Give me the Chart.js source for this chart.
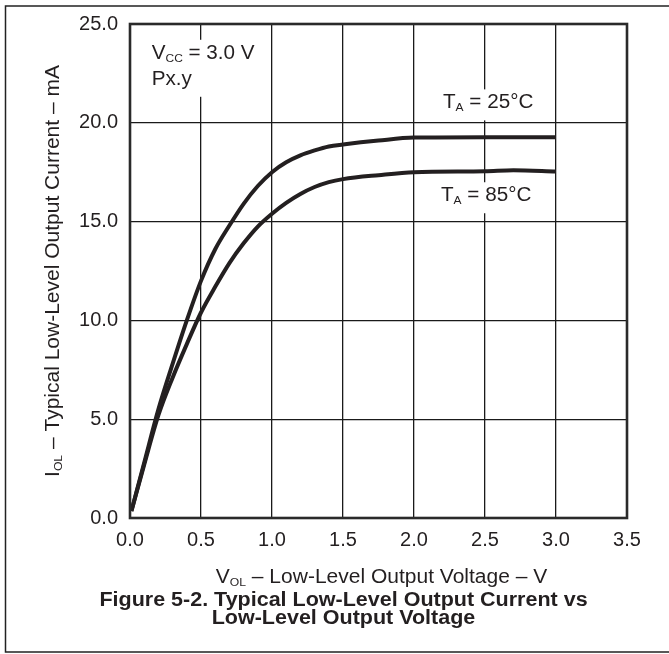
<!DOCTYPE html>
<html>
<head>
<meta charset="utf-8">
<script src="https://cdn.jsdelivr.net/npm/chart.js@4.4.0/dist/chart.umd.min.js"></script>
<style>html,body{margin:0;padding:0;background:#fff;overflow:hidden}</style>
</head>
<body>
<canvas id="myCanvas" width="669" height="654"></canvas>
<script>
var voltage   = [0.01, 0.1, 0.2, 0.3, 0.4, 0.5, 0.6, 0.7, 0.8, 0.9, 1.0, 1.1, 1.2, 1.3, 1.4, 1.5, 1.75, 2.0, 2.5, 2.7, 3.0]
var current25 = [0.35, 2.8, 5.5, 7.8, 10.0, 12.0, 13.6, 14.8, 15.9, 16.8, 17.5, 18.0, 18.35, 18.6, 18.8, 18.9, 19.1, 19.25, 19.27, 19.27, 19.27]
var current85 = [0.35, 2.7, 5.2, 7.1, 8.8, 10.4, 11.7, 12.9, 13.9, 14.75, 15.4, 15.95, 16.4, 16.75, 17.0, 17.15, 17.35, 17.5, 17.55, 17.6, 17.53]
var xTicks = [0, 0.5, 1.0, 1.5, 2.0, 2.5, 3.0, 3.5]
var yTicks = [0, 5, 10, 15, 20, 25]

var ink = '#231f20'
var family = '"Liberation Sans", Arial, Helvetica, sans-serif'

function toPoints(xs, ys) {
    return xs.map(function (x, i) { return { x: x, y: ys[i] } })
}

// a line of text is a list of [text, subscript?] pieces
function richWidth(ctx, parts, size, bold, sx) {
    var w = 0
    parts.forEach(function (p) {
        ctx.font = (bold ? 'bold ' : '') + (p[1] ? size * 0.58 : size) + 'px ' + family
        w += ctx.measureText(p[0]).width * sx
    })
    return w
}

function drawRich(ctx, parts, x, y, size, bold, sx, align) {
    var w = richWidth(ctx, parts, size, bold, sx)
    var cx = align === 'center' ? x - w / 2 : x
    ctx.fillStyle = ink
    ctx.textBaseline = 'alphabetic'
    ctx.textAlign = 'left'
    parts.forEach(function (p) {
        var fs = p[1] ? size * 0.58 : size
        ctx.font = (bold ? 'bold ' : '') + fs + 'px ' + family
        ctx.save()
        ctx.translate(cx, y + (p[1] ? 3 : 0))
        ctx.scale(sx, 1)
        ctx.fillText(p[0], 0, 0)
        ctx.restore()
        cx += ctx.measureText(p[0]).width * sx
    })
}

var notes = [
    { x: 0.153, y: 23.24, lines: [[['V'], ['CC', 1], [' = 3.0 V']], [['Px.y']]] },
    { x: 2.204, y: 20.73, lines: [[['T'], ['A', 1], [' = 25°C']]] },
    { x: 2.19, y: 16.03, lines: [[['T'], ['A', 1], [' = 85°C']]] }
]

var decor = {
    id: 'decor',
    afterDatasetsDraw: function (chart) {
        var ctx = chart.ctx, ca = chart.chartArea
        var sx = chart.scales.x, sy = chart.scales.y
        ctx.save()
        // labels inside the plot, on white boxes over the grid
        notes.forEach(function (n) {
            var left = sx.getPixelForValue(n.x), base = sy.getPixelForValue(n.y)
            var w = 0
            n.lines.forEach(function (l) { w = Math.max(w, richWidth(ctx, l, 19.5, false, 1.06)) })
            ctx.fillStyle = '#fff'
            ctx.fillRect(left - 4, base - 19, w + 10, 26 * (n.lines.length - 1) + 31)
            n.lines.forEach(function (l, i) { drawRich(ctx, l, left, base + 26 * i, 19.5, false, 1.06, 'left') })
        })
        // plot frame
        ctx.strokeStyle = '#2a2a2a'
        ctx.lineWidth = 2.6
        ctx.strokeRect(ca.left, ca.top, ca.right - ca.left, ca.bottom - ca.top)
        ctx.restore()
    },
    afterDraw: function (chart) {
        var ctx = chart.ctx, ca = chart.chartArea
        ctx.save()
        // axis titles
        drawRich(ctx, [['V'], ['OL', 1], [' – Low-Level Output Voltage – V']],
            (ca.left + ca.right) / 2 + 3, ca.bottom + 65, 20, false, 1.05, 'center')
        ctx.save()
        ctx.translate(59, (ca.top + ca.bottom) / 2)
        ctx.rotate(-Math.PI / 2)
        drawRich(ctx, [['I'], ['OL', 1], [' – Typical Low-Level Output Current – mA']], 0, 0, 20, false, 1.05, 'center')
        ctx.restore()
        // caption
        drawRich(ctx, [['Figure 5-2. Typical Low-Level Output Current vs']], chart.width / 2 + 9, ca.bottom + 88, 20, true, 1.075, 'center')
        drawRich(ctx, [['Low-Level Output Voltage']], chart.width / 2 + 9, ca.bottom + 106, 20, true, 1.075, 'center')
        // page frame (left, top, bottom)
        ctx.strokeStyle = '#222'
        ctx.lineWidth = 1.5
        ctx.beginPath()
        ctx.moveTo(669, 6); ctx.lineTo(5.5, 6); ctx.lineTo(5.5, 652); ctx.lineTo(669, 652)
        ctx.stroke()
        ctx.restore()
    }
}

var tickFont = { size: 20, family: family }

var ctx = document.getElementById('myCanvas')
var myChart = new Chart(ctx, {
    type: 'line',
    data: {
        datasets: [
            { label: 'TA = 25°C', data: toPoints(voltage, current25) },
            { label: 'TA = 85°C', data: toPoints(voltage, current85) }
        ]
    },
    options: {
        responsive: false,
        animation: false,
        devicePixelRatio: 1,
        layout: { padding: { top: 22, right: 42, left: 0, bottom: 0 } },
        elements: {
            line: { borderColor: ink, borderWidth: 4, borderCapStyle: 'butt', cubicInterpolationMode: 'monotone', fill: false },
            point: { radius: 0 }
        },
        plugins: { legend: { display: false }, tooltip: { enabled: false } },
        scales: {
            x: {
                type: 'linear', min: 0, max: 3.5,
                afterBuildTicks: function (s) { s.ticks = xTicks.map(function (v) { return { value: v } }) },
                afterFit: function (s) { s.height = 136 },
                ticks: { callback: function (v) { return v.toFixed(1) }, color: ink, font: tickFont, padding: 10, maxRotation: 0, autoSkip: false },
                grid: { color: '#1a1a1a', lineWidth: 1.3, drawTicks: false },
                border: { display: false }
            },
            y: {
                type: 'linear', min: 0, max: 25,
                afterBuildTicks: function (s) { s.ticks = yTicks.map(function (v) { return { value: v } }) },
                afterFit: function (s) { s.width = 130 },
                ticks: { callback: function (v) { return v.toFixed(1) }, color: ink, font: tickFont, padding: 12, autoSkip: false },
                grid: { color: '#1a1a1a', lineWidth: 1.3, drawTicks: false },
                border: { display: false }
            }
        }
    },
    plugins: [decor]
})
</script>
</body>
</html>
